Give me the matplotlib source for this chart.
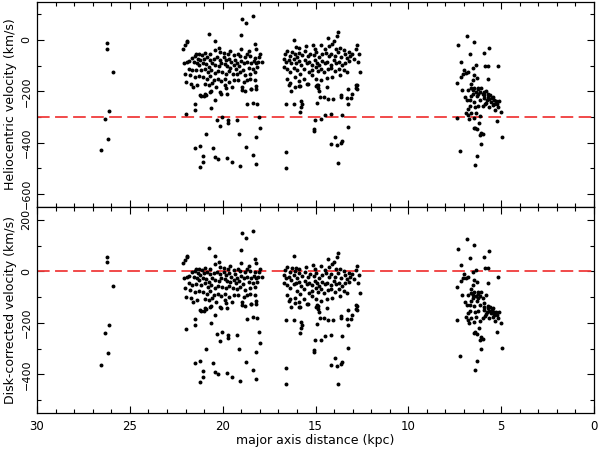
import numpy as np
import matplotlib
matplotlib.use("Agg")
import matplotlib.pyplot as plt
from matplotlib.ticker import MultipleLocator

# Field at ~26 kpc
field_a_dist = [26.55, 26.35, 26.25, 26.25, 26.2, 26.1, 25.9]
field_a_vhel = [-430, -306, -12, -34, -386, -276, -125]
field_a_vdisk = [-362, -238, 57, 35, -318, -209, -57]

# Field at 22-18 kpc
field_b_dist = [
    18.97, 18.76, 18.34, 20.72, 19.01, 22.12, 22.03, 21.94, 21.90, 20.43, 18.27, 18.18, 18.99,
    21.44, 21.26, 21.11, 20.93, 20.66, 20.39, 20.21, 20.12, 19.94, 19.71, 19.58, 19.40, 19.17,
    19.05, 18.81, 18.69, 18.56, 18.51, 18.27, 18.06, 17.97, 17.88, 18.09,
    21.65, 21.51, 21.33, 21.20, 21.02, 20.84, 20.66, 20.48, 20.30, 20.12, 19.94, 19.82, 19.67,
    19.53, 19.35, 19.23, 18.99, 18.87, 18.69, 18.45, 18.33, 18.20,
    22.10, 21.92, 21.79, 21.56, 21.38, 21.26, 21.08, 20.90, 20.75, 20.57, 20.39, 20.21, 20.07,
    19.89, 19.75, 19.58, 19.40, 19.28, 19.10, 18.92, 18.60, 18.38, 18.13,
    21.83, 21.65, 21.44, 21.15, 20.97, 20.79, 20.61, 20.43, 20.25, 20.03, 19.82, 19.64, 19.46,
    19.23, 19.05, 18.81, 18.51, 18.27,
    22.01, 21.74, 21.51, 21.29, 21.08, 20.84, 20.66, 20.48, 20.25, 20.07, 19.85, 19.67, 19.40,
    19.17, 18.87, 18.69, 18.51, 18.24,
    21.97, 21.69, 21.38, 20.97, 20.75, 20.57, 20.36, 19.85, 19.49, 18.96, 18.78, 18.45, 18.20,
    21.20, 20.97, 20.66, 20.12, 19.76,
    21.58, 21.18, 21.00, 20.90, 20.64, 20.41, 20.07, 19.84, 18.94, 18.49, 18.22, 18.67, 18.34,
    18.13, 21.99, 21.49, 21.49, 20.61, 20.28, 20.05, 19.71, 19.71, 20.16, 19.21, 18.07, 17.98,
    20.88, 19.12, 21.49, 21.22, 20.52, 21.06, 20.43, 20.25, 19.75, 19.48, 21.04, 21.24, 19.06,
    18.76, 18.38, 18.22, 18.18,
]
field_b_vhel = [
    82, 65, 91, 24, 17, -34, -21, -8, -5, -4, -17, -34, -34,
    -54, -56, -60, -51, -54, -38, -30, -47, -51, -54, -43, -60, -54,
    -64, -67, -54, -43, -64, -69, -67, -56, -86, -86,
    -69, -64, -73, -79, -73, -67, -77, -73, -67, -77, -67, -79, -73,
    -86, -77, -90, -82, -92, -86, -90, -82, -92,
    -92, -86, -82, -86, -92, -99, -90, -95, -105, -90, -99, -103, -92,
    -95, -103, -108, -99, -112, -103, -116, -108, -112, -105,
    -112, -118, -116, -118, -112, -125, -118, -129, -121, -125, -131, -121, -131,
    -134, -125, -138, -131, -125,
    -131, -138, -144, -141, -144, -151, -141, -157, -151, -160, -154, -163, -157,
    -157, -163, -157, -154, -157,
    -163, -170, -176, -172, -176, -167, -183, -176, -183, -185, -198, -193, -180,
    -215, -209, -202, -202, -209,
    -183, -218, -219, -213, -198, -235, -209, -186, -196, -193, -193, -250, -244,
    -248, -290, -251, -273, -264, -310, -299, -312, -325, -335, -312, -299, -344,
    -368, -366, -422, -412, -422, -450, -454, -463, -461, -476, -476, -493, -489,
    -416, -448, -483, -377,
]
field_b_vdisk = [
    147, 130, 156, 89, 82, 31, 44, 57, 60, 61, 48, 31, 31,
    11, 9, 5, 14, 11, 27, 35, 18, 14, 11, 22, 5, 11,
    1, -2, 11, 22, 1, -4, -2, 9, -21, -21,
    -4, 1, -8, -14, -8, -2, -12, -8, -2, -12, -2, -14, -8,
    -21, -12, -25, -17, -27, -21, -25, -17, -27,
    -27, -21, -17, -21, -27, -34, -25, -30, -40, -25, -34, -38, -27,
    -30, -38, -43, -34, -47, -38, -51, -43, -47, -40,
    -47, -53, -51, -53, -47, -60, -53, -64, -56, -60, -66, -56, -66,
    -69, -60, -73, -66, -60,
    -66, -73, -79, -76, -79, -86, -76, -92, -86, -95, -89, -98, -92,
    -92, -98, -92, -89, -92,
    -98, -105, -111, -107, -111, -102, -118, -111, -118, -120, -133, -128, -115,
    -150, -144, -137, -137, -144,
    -118, -153, -154, -148, -133, -170, -144, -121, -131, -128, -128, -185, -179,
    -183, -225, -186, -208, -199, -245, -234, -247, -260, -270, -247, -234, -279,
    -303, -301, -357, -347, -357, -385, -389, -398, -396, -411, -411, -428, -424,
    -351, -383, -418, -312,
]

# Field at 17-12.5 kpc
field_c_dist = [
    13.78, 13.82, 16.17, 14.32, 14.01, 12.76, 16.05, 15.87, 15.51, 15.15, 15.04, 14.73, 14.50,
    14.25, 14.10, 13.89, 13.66, 13.48, 13.21, 13.03, 12.81, 12.67, 12.94, 12.70, 12.58, 12.81,
    12.81,
    16.66, 16.53, 16.40, 16.26, 16.12, 15.99, 15.87, 15.72, 15.58, 15.40, 15.27, 15.09, 14.97,
    14.82, 14.64, 14.46, 14.28, 14.14, 13.96, 13.78, 13.60, 13.42, 13.30, 13.12,
    16.71, 16.58, 16.44, 16.30, 16.17, 16.05, 15.90, 15.76, 15.58, 15.45, 15.33, 15.18, 15.04,
    14.91, 14.79, 14.64, 14.50, 14.37, 14.19, 14.01, 13.89, 13.75, 13.57, 13.39, 13.21,
    16.71, 16.53, 16.35, 16.17, 15.99, 15.81, 15.63, 15.36, 15.18, 15.00, 14.86, 14.68, 14.55,
    14.32, 14.14, 13.93, 13.71, 13.48, 13.30,
    16.53, 16.35, 16.08, 15.87, 15.63, 15.40, 15.18, 14.97, 14.91, 14.68, 14.37, 14.10, 13.66,
    16.44, 16.12, 15.81, 15.00, 14.86,
    16.30, 15.88, 15.47, 14.89, 14.80, 14.75, 14.53, 14.36, 13.60, 13.64, 13.24, 13.06, 13.28,
    13.10, 12.74, 12.74, 16.58, 16.15, 15.79, 15.74, 15.79, 15.83, 14.93, 14.50, 14.32, 14.05,
    14.17, 13.55, 13.26, 15.02, 14.71, 15.06, 15.07, 13.26, 13.94, 14.14, 13.64, 13.58, 13.82,
    16.60, 16.60, 13.80,
]
field_c_vhel = [
    30, 15, -2, 7, -6, -21, -28, -32, -24, -19, -34, -21, -37,
    -24, -15, -34, -32, -41, -47, -54, -37, -57, -73, -86, -125, -174,
    -189,
    -54, -45, -63, -47, -57, -67, -50, -60, -45, -63, -54, -60, -47,
    -67, -57, -50, -63, -54, -63, -47, -67, -57, -70, -63,
    -73, -86, -80, -92, -76, -89, -83, -99, -80, -92, -86, -96, -80,
    -89, -99, -83, -92, -86, -96, -80, -92, -86, -99, -89, -83,
    -105, -112, -125, -109, -118, -131, -112, -125, -118, -105, -122, -112, -127,
    -115, -109, -122, -112, -118, -125,
    -153, -166, -144, -161, -151, -170, -138, -151, -174, -157, -148, -144, -138,
    -174, -183, -179, -179, -189,
    -198, -180, -170, -176, -198, -222, -222, -183, -215, -224, -193, -211, -228,
    -228, -176, -193, -250, -248, -237, -250, -263, -280, -245, -293, -231, -229,
    -290, -293, -251, -310, -308, -348, -355, -338, -379, -405, -400, -395, -409,
    -435, -497, -478,
]
field_c_vdisk = [
    72, 57, 58, 49, 36, 21, 14, 10, 18, 23, 8, 21, 5,
    18, 27, 8, 10, 1, -5, -12, 5, -15, -31, -44, -83, -132,
    -147,
    6, 15, -3, 13, 3, -25, -8, -18, -3, -21, -12, -18, -5,
    -25, -15, -8, -21, -12, -21, -5, -25, -15, -28, -21,
    -13, -26, -20, -32, -16, -47, -41, -57, -38, -50, -44, -54, -38,
    -47, -57, -41, -50, -44, -54, -38, -50, -44, -57, -47, -41,
    -45, -52, -65, -49, -76, -89, -70, -83, -76, -63, -80, -70, -85,
    -73, -67, -80, -70, -76, -83,
    -93, -106, -102, -119, -109, -128, -96, -109, -132, -115, -106, -102, -96,
    -114, -123, -137, -137, -147,
    -138, -138, -128, -134, -156, -180, -180, -141, -173, -182, -151, -169, -186,
    -186, -134, -151, -190, -188, -195, -208, -221, -238, -203, -251, -189, -187,
    -248, -251, -209, -268, -266, -306, -313, -296, -337, -363, -358, -353, -367,
    -375, -437, -436,
]

# Field at 7.5-5 kpc
field_d_dist = [
    6.85, 7.35, 6.45, 6.67, 5.91, 5.66, 7.14, 6.54, 6.36, 5.88, 5.73, 5.16, 7.00,
    7.03, 6.90, 6.81, 7.14, 7.39, 6.49, 6.52, 6.31, 5.73, 7.10, 6.60, 6.63, 6.45,
    6.27, 6.13, 6.36, 6.54, 6.00, 5.82, 5.73, 5.59, 5.46, 5.95, 5.77, 5.55, 5.37,
    5.28, 5.11, 5.16, 5.34, 5.64, 5.88, 6.13, 6.27, 6.67, 6.96, 6.85, 6.67, 6.45,
    6.31, 6.90, 6.81, 6.63, 6.45, 6.72, 6.36, 6.13, 6.18, 6.40, 6.45, 6.31, 6.09,
    6.00, 6.13, 6.06, 7.23, 6.31, 6.40, 5.20, 4.94, 5.02, 6.24, 5.91, 5.64, 5.46,
    6.09, 6.60, 6.78, 7.39, 6.54, 6.24, 5.95, 5.70, 5.52, 5.41, 5.23, 5.82, 6.00,
    6.42, 6.81,
]
field_d_vhel = [
    15, -19, -9, -54, -51, -32, -86, -109, -99, -102, -102, -103, -116,
    -131, -129, -125, -144, -167, -138, -157, -148, -151, -196, -173, -189, -186,
    -193, -202, -202, -209, -209, -198, -222, -215, -222, -228, -235, -241, -248,
    -237, -237, -263, -271, -260, -250, -235, -258, -258, -224, -235, -235, -241,
    -219, -284, -293, -286, -302, -306, -284, -297, -325, -341, -344, -348, -361,
    -368, -370, -405, -432, -452, -487, -316, -377, -280, -209, -215, -232, -254,
    -186, -219, -196, -302, -196, -186, -202, -211, -228, -235, -250, -245, -258,
    -263, -267,
]
field_d_vdisk = [
    125, 87, 101, 52, 56, 80, 25, -4, 6, 13, 13, -20, -11,
    -26, -24, -20, -39, -62, -33, -52, -43, -46, -91, -68, -84, -81,
    -88, -97, -97, -104, -104, -93, -144, -137, -144, -150, -157, -163, -170,
    -157, -157, -183, -193, -182, -172, -130, -153, -153, -119, -130, -130, -136,
    -114, -179, -188, -181, -197, -201, -179, -192, -220, -236, -239, -243, -256,
    -263, -265, -300, -329, -347, -382, -236, -297, -200, -104, -137, -154, -176,
    -81, -114, -91, -187, -91, -81, -124, -133, -150, -157, -170, -167, -180,
    -158, -162,
]

v_systemic = -300

dist = np.concatenate([field_a_dist, field_b_dist, field_c_dist, field_d_dist])
vhel = np.concatenate([field_a_vhel, field_b_vhel, field_c_vhel, field_d_vhel])
vdisk = np.concatenate([field_a_vdisk, field_b_vdisk, field_c_vdisk, field_d_vdisk])

plt.rcParams['font.family'] = 'DejaVu Sans'

fig = plt.figure(figsize=(5.98, 4.57), dpi=100)
ax1 = fig.add_axes([0.0619, 0.547, 0.9314, 0.4486])
ax2 = fig.add_axes([0.0619, 0.0963, 0.9314, 0.4508])

red = '#f03c3c'

ax1.scatter(dist, vhel, s=8, c='black', linewidths=0, zorder=3)
ax1.axhline(v_systemic, color=red, lw=1.3, dashes=(7, 3), zorder=2)
ax2.scatter(dist, vdisk, s=8, c='black', linewidths=0, zorder=3)
ax2.axhline(0, color=red, lw=1.3, dashes=(7, 3), zorder=2)

ax1.set_ylim(-650, 147)
ax2.set_ylim(-550, 250)

for ax in (ax1, ax2):
    ax.set_xlim(30, 0)
    ax.xaxis.set_major_locator(MultipleLocator(5))
    ax.xaxis.set_minor_locator(MultipleLocator(1))
    ax.yaxis.set_major_locator(MultipleLocator(200))
    ax.yaxis.set_minor_locator(MultipleLocator(100))
    ax.tick_params(which='both', direction='in', top=True, right=True, width=0.8)
    ax.tick_params(which='major', length=5)
    ax.tick_params(which='minor', length=2.8)
    ax.tick_params(axis='y', labelrotation=90, labelsize=8, pad=4)
    ax.tick_params(axis='x', labelsize=8.5, pad=5)
    for lbl in ax.get_yticklabels():
        lbl.set_va('center')
    for sp in ax.spines.values():
        sp.set_linewidth(0.9)

ax1.tick_params(axis='x', labelbottom=False)

ax1.set_ylabel('Heliocentric velocity (km/s)', fontsize=9)
ax2.set_ylabel('Disk-corrected velocity (km/s)', fontsize=9)
ax1.yaxis.set_label_coords(-0.036, 0.5)
ax2.yaxis.set_label_coords(-0.036, 0.5)
ax2.set_xlabel('major axis distance (kpc)', fontsize=9)
ax2.xaxis.set_label_coords(0.5, -0.10)

fig.savefig('out.png', dpi=100)
